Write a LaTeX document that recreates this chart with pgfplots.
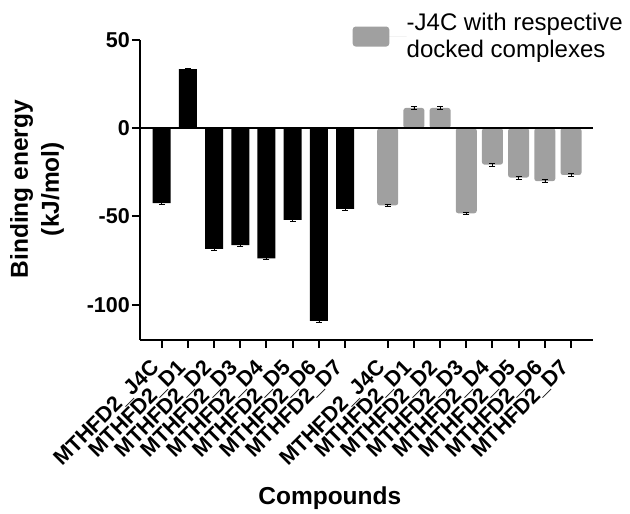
\documentclass[border=0pt]{standalone}
\usepackage{fontspec}
\setmainfont{Liberation Sans}
\usepackage{pgfplots}
\pgfplotsset{compat=1.18}
\definecolor{barG}{HTML}{A0A0A0}
\begin{document}
\begin{tikzpicture}
\useasboundingbox (0,0) rectangle (630pt,514pt);
\begin{axis}[
  at={(140pt,174pt)}, anchor=south west,
  scale only axis, width=453pt, height=300pt,
  xmin=-0.83, xmax=16.47, ymin=-120, ymax=50,
  axis x line*=bottom, axis y line*=left,
  axis line style={line width=2.5pt},
  ytick={-100,-50,0,50}, yticklabels={-100,-50,0,50},
  xtick={0,1,2,3,4,5,6,7,8.63,9.63,10.63,11.63,12.63,13.63,14.63,15.63},
  xticklabels={MTHFD2\_J4C,MTHFD2\_D1,MTHFD2\_D2,MTHFD2\_D3,MTHFD2\_D4,MTHFD2\_D5,MTHFD2\_D6,MTHFD2\_D7,
               MTHFD2\_J4C,MTHFD2\_D1,MTHFD2\_D2,MTHFD2\_D3,MTHFD2\_D4,MTHFD2\_D5,MTHFD2\_D6,MTHFD2\_D7},
  tick align=outside, major tick length=8pt,
  every tick/.style={black, line width=2pt},
  yticklabel style={font=\fontsize{21.5}{21.5}\selectfont\bfseries, inner sep=2pt},
  xticklabel style={font=\fontsize{21.5}{21.5}\selectfont\bfseries, xshift=-4pt, yshift=-15pt, rotate=45, anchor=east, inner sep=2pt},
  xlabel={Compounds},
  xlabel style={at={(axis description cs:0.419,-0.527)}, anchor=center, font=\fontsize{24.5}{24.5}\selectfont\bfseries},
  ylabel={Binding energy\\(kJ/mol)},
  ylabel style={at={(axis description cs:-0.227,0.503)}, anchor=center, align=center, font=\fontsize{24.5}{31}\selectfont\bfseries},
  legend style={at={(axis description cs:0.4695,1.088)}, anchor=north west, draw=none, fill=none,
                inner sep=0pt, outer sep=0pt, font=\fontsize{24}{27}\selectfont,
                cells={align=left}, nodes={inner sep=0pt}},
  legend cell align=left,
  legend image code/.code={\fill[barG, rounded corners=3pt] (0pt,-10pt) rectangle (36.6pt,10pt); \path (0pt,0pt) -- (54pt,0pt);},
  clip=false,
]
\addplot[ybar, bar shift=0pt, bar width=18pt, fill=black, draw=none, forget plot,
  error bars/.cd, y dir=both, y explicit,
  error bar style={black, line width=0.6pt},
  error mark options={rotate=90, mark size=3pt, black, line width=0.6pt}]
coordinates {
(0,-42.5) +- (0,0.7)
(1,33.5) +- (0,0.7)
(2,-68.4) +- (0,0.7)
(3,-66.3) +- (0,0.7)
(4,-73.8) +- (0,0.7)
(5,-51.9) +- (0,0.7)
(6,-109.1) +- (0,0.7)
(7,-45.7) +- (0,0.7)
};
\addplot[ybar, bar shift=0pt, bar width=21pt, fill=barG, draw=none, rounded corners=2.5pt,
  error bars/.cd, y dir=both, y explicit,
  error bar style={black, line width=0.6pt},
  error mark options={rotate=90, mark size=3pt, black, line width=0.6pt}]
coordinates {
(8.63,-43.7) +- (0,0.8)
(9.63,11.5) +- (0,0.8)
(10.63,11.5) +- (0,0.8)
(11.63,-48.2) +- (0,0.8)
(12.63,-20.6) +- (0,0.8)
(13.63,-28.0) +- (0,0.8)
(14.63,-30.0) +- (0,0.8)
(15.63,-26.5) +- (0,0.8)
};
\addlegendentry{-J4C with respective\\docked complexes}
\addplot[black, line width=2.5pt, forget plot, mark=none] coordinates {(-0.83,0) (16.47,0)};
\end{axis}
\end{tikzpicture}
\end{document}
